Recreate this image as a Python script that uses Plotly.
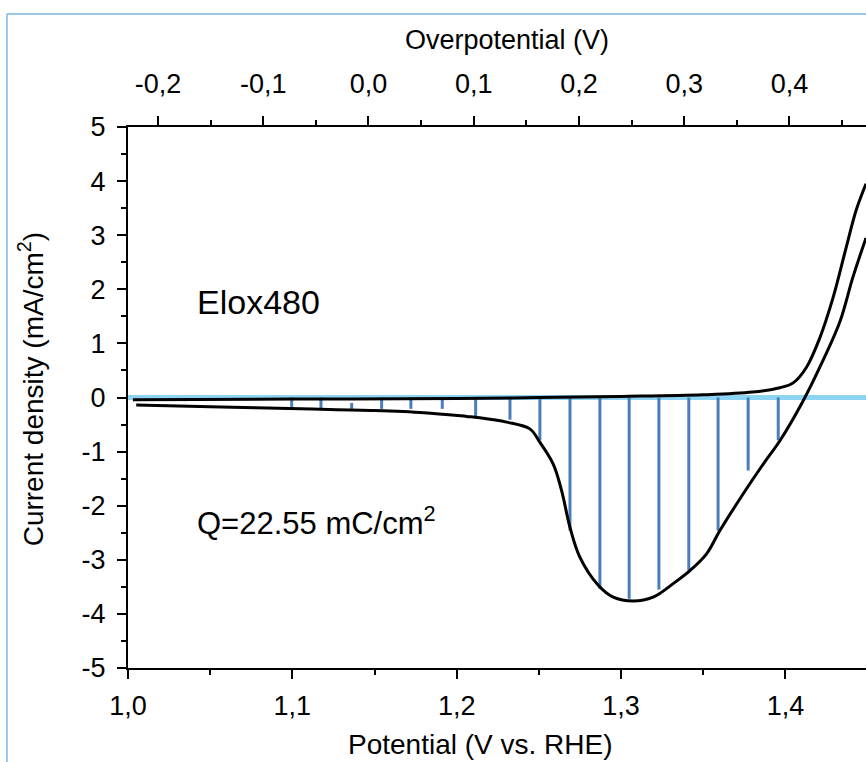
import plotly.graph_objects as go

# ---- data ----
E_lower = [1.005, 1.05, 1.105, 1.15, 1.18, 1.206, 1.214, 1.2303, 1.2445, 1.2500,
           1.2587, 1.2638, 1.2689, 1.2749, 1.2861, 1.2952, 1.3074, 1.3195, 1.3317,
           1.3419, 1.3520, 1.3601, 1.3743, 1.3865, 1.3966, 1.4108, 1.4209, 1.4331,
           1.441, 1.449]
j_lower = [-0.14, -0.17, -0.21, -0.24, -0.28, -0.35, -0.375, -0.455, -0.58, -0.80,
           -1.23, -1.72, -2.40, -2.95, -3.47, -3.69, -3.76, -3.69, -3.44,
           -3.20, -2.89, -2.46, -1.78, -1.23, -0.80, -0.06, 0.56, 1.40,
           2.22, 2.95]

E_upper = [1.003, 1.10, 1.20, 1.25, 1.30, 1.35, 1.38, 1.3966, 1.4047, 1.4128, 1.421,
           1.429, 1.437, 1.443, 1.449]
j_upper = [-0.04, -0.03, -0.02, 0.0, 0.02, 0.05, 0.10, 0.18, 0.27, 0.56, 1.11,
           1.85, 2.78, 3.46, 3.95]

mark_E = [1.0996, 1.1174, 1.1361, 1.1543, 1.1721, 1.1912, 1.2115, 1.2324, 1.2506,
          1.2689, 1.2871, 1.3049, 1.3230, 1.3412, 1.3590, 1.3773, 1.3956]
mark_top = [0, 0, -0.10, 0, 0, 0, 0, 0, 0, 0, 0, 0, 0, 0, 0, 0, 0]
mark_bottom = [-0.21, -0.21, -0.21, -0.21, -0.21, -0.21, -0.39, -0.41, -0.79,
               -2.46, -3.54, -3.72, -3.55, -3.20, -2.46, -1.35, -0.79]

x_ticks = [1.0, 1.1, 1.2, 1.3, 1.4]
eta_ticks = [-0.2, -0.1, 0.0, 0.1, 0.2, 0.3, 0.4]
y_ticks = [-5, -4, -3, -2, -1, 0, 1, 2, 3, 4, 5]

x_range = [1.0, 1.449]
eta_range = [-0.2285, 0.4727]
y_range = [-5, 5]

sample_label = "Elox480"
charge_label = "Q=22.55 mC/cm<sup>2</sup>"
x_title = "Potential (V vs. RHE)"
top_title = "Overpotential (V)"
y_title = "Current density (mA/cm<sup>2</sup>)"

FONT = "Liberation Sans, Arial, sans-serif"


def comma(v, nd=1):
    return f"{v:.{nd}f}".replace(".", ",")


fig = go.Figure()

# integration marks
mx, my = [], []
for e, t, b in zip(mark_E, mark_top, mark_bottom):
    mx += [e, e, None]
    my += [t, b, None]
fig.add_trace(go.Scatter(x=mx, y=my, mode="lines",
                         line=dict(color="#4a7ebb", width=3),
                         hoverinfo="skip", showlegend=False))

fig.add_trace(go.Scatter(x=E_lower, y=j_lower, mode="lines", line_shape="spline",
                         line=dict(color="black", width=3), showlegend=False))
fig.add_trace(go.Scatter(x=E_upper, y=j_upper, mode="lines", line_shape="spline",
                         line=dict(color="black", width=3), showlegend=False))

# invisible trace to activate top axis
fig.add_trace(go.Scatter(x=eta_range, y=[None, None], xaxis="x2", mode="lines",
                         showlegend=False, hoverinfo="skip"))

# light blue zero line
fig.add_shape(type="line", xref="x domain", yref="y", x0=0, x1=1, y0=0, y1=0,
              line=dict(color="#8dd3f2", width=5), layer="below")

# outer frame (light blue)
fig.add_shape(type="line", xref="paper", yref="paper", x0=-0.164, x1=1.0,
              y0=1.209, y1=1.209, line=dict(color="#7ab6e0", width=1.5))
fig.add_shape(type="line", xref="paper", yref="paper", x0=-0.164, x1=-0.164,
              y0=-0.2, y1=1.209, line=dict(color="#7ab6e0", width=1.5))

fig.add_annotation(x=1.041, y=1.77, text=sample_label, showarrow=False,
                   xanchor="left", yanchor="middle", font=dict(size=34, color="black", family=FONT))
fig.add_annotation(x=1.041, y=-2.29, text=charge_label, showarrow=False,
                   xanchor="left", yanchor="middle", font=dict(size=31, color="black", family=FONT))

# axis titles
fig.add_annotation(xref="paper", yref="paper", x=0.477, y=-0.1423, text=x_title,
                   showarrow=False, xanchor="center", yanchor="middle",
                   font=dict(size=28, color="black", family=FONT))
fig.add_annotation(xref="paper", yref="paper", x=0.5136, y=1.1608, text=top_title,
                   showarrow=False, xanchor="center", yanchor="middle",
                   font=dict(size=27, color="black", family=FONT))
fig.add_annotation(xref="paper", yref="paper", x=-0.131, y=0.5157, text=y_title,
                   showarrow=False, xanchor="center", yanchor="middle", textangle=-90,
                   font=dict(size=28, color="black", family=FONT))

axis_common = dict(showline=True, linecolor="black", linewidth=2, ticks="outside",
                   tickcolor="black", tickwidth=2, showgrid=False, zeroline=False,
                   tickmode="array", ticklen=9,
                   tickfont=dict(size=27, color="black", family=FONT))
minor_common = dict(ticklen=5, tickcolor="black", tickwidth=2, ticks="outside")

fig.update_layout(
    width=866, height=762,
    margin=dict(l=128, r=0, t=127, b=94),
    plot_bgcolor="white", paper_bgcolor="white",
    font=dict(family=FONT, color="black"),
    xaxis=dict(range=x_range, tickvals=x_ticks, ticktext=[comma(v) for v in x_ticks],
               ticklabelstandoff=4,
               minor=dict(tickmode="linear", tick0=1.0, dtick=0.05, **minor_common),
               **axis_common),
    xaxis2=dict(range=eta_range, overlaying="x", side="top",
                tickvals=eta_ticks, ticktext=[comma(v) for v in eta_ticks],
                ticklabelstandoff=12,
                minor=dict(tickmode="linear", tick0=0.0, dtick=0.05, **minor_common),
                **axis_common),
    yaxis=dict(range=y_range, tickvals=y_ticks, ticktext=[str(v) for v in y_ticks],
               ticklabelstandoff=6,
               minor=dict(tickmode="linear", tick0=0, dtick=0.5, **minor_common),
               **axis_common),
)

fig.write_html("out.html", config={"displayModeBar": False},
               post_script="document.body.style.margin='0px';")
